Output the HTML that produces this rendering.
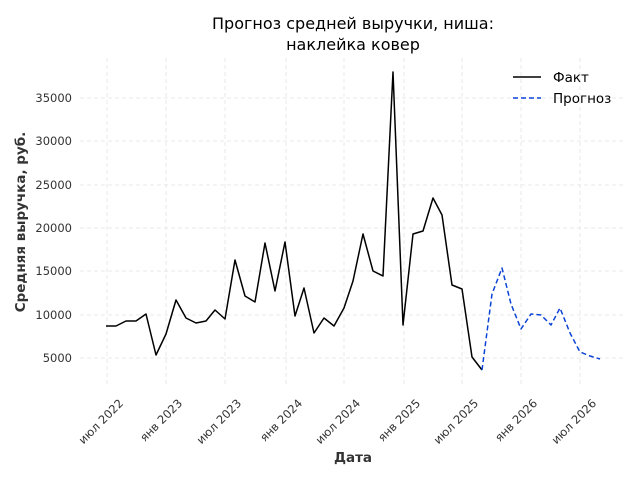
<!DOCTYPE html><html><head><meta charset="utf-8"><style>body{margin:0;background:#fff}svg{font-family:"DejaVu Sans","Liberation Sans",sans-serif}</style></head><body>
<svg width="640" height="480" viewBox="0 0 640 480" xmlns="http://www.w3.org/2000/svg">
<rect width="640" height="480" fill="#fff"/>
<g stroke="#e3e3e3" stroke-width="0.8" stroke-dasharray="4,3">
<line x1="80" x2="626" y1="98" y2="98"/><line x1="80" x2="626" y1="141" y2="141"/><line x1="80" x2="626" y1="185" y2="185"/><line x1="80" x2="626" y1="228" y2="228"/><line x1="80" x2="626" y1="271" y2="271"/><line x1="80" x2="626" y1="315" y2="315"/><line x1="80" x2="626" y1="358" y2="358"/>
<line y1="58" y2="386" x1="107" x2="107"/><line y1="58" y2="386" x1="166" x2="166"/><line y1="58" y2="386" x1="225" x2="225"/><line y1="58" y2="386" x1="286" x2="286"/><line y1="58" y2="386" x1="344" x2="344"/><line y1="58" y2="386" x1="404" x2="404"/><line y1="58" y2="386" x1="462" x2="462"/><line y1="58" y2="386" x1="521" x2="521"/><line y1="58" y2="386" x1="580" x2="580"/>
</g>
<g font-size="11.5" fill="#333" text-anchor="end">
<text x="72" y="102">35000</text><text x="72" y="145">30000</text><text x="72" y="189">25000</text><text x="72" y="232">20000</text><text x="72" y="275">15000</text><text x="72" y="319">10000</text><text x="72" y="362">5000</text>
</g>
<g font-size="11.5" fill="#333" text-anchor="end">
<text transform="translate(124,404) rotate(-45)">июл 2022</text><text transform="translate(183,404) rotate(-45)">янв 2023</text><text transform="translate(242,404) rotate(-45)">июл 2023</text><text transform="translate(303,404) rotate(-45)">янв 2024</text><text transform="translate(361,404) rotate(-45)">июл 2024</text><text transform="translate(421,404) rotate(-45)">янв 2025</text><text transform="translate(479,404) rotate(-45)">июл 2025</text><text transform="translate(538,404) rotate(-45)">янв 2026</text><text transform="translate(597,404) rotate(-45)">июл 2026</text>
</g>
<text x="353" y="29" font-size="16" text-anchor="middle">Прогноз средней выручки, ниша:</text>
<text x="353" y="50" font-size="16" text-anchor="middle">наклейка ковер</text>
<text x="353" y="462" font-size="13.5" font-weight="bold" fill="#333" text-anchor="middle">Дата</text>
<text transform="translate(25,222) rotate(-90)" font-size="13.5" font-weight="bold" fill="#333" text-anchor="middle">Средняя выручка, руб.</text>
<polyline fill="none" stroke="#000" stroke-width="1.5" stroke-linejoin="round" points="106,326 116,326 126,321 136,321 146,314 156,355 166,334 176,300 186,318 196,323 206,321 215,310 225,319 235,260 245,296 255,302 265,243 275,291 285,242 295,316 304,288 314,333 324,318 334,326 344,308 353,281 363,234 373,271 383,276 393,72 403,325 413,234 423,231 433,198 442,215 452,285 462,289 472,357 482,370"/>
<polyline fill="none" stroke="#0a44d6" stroke-width="1.5" stroke-dasharray="5,3" stroke-linejoin="round" points="482,370 492,294 502,268 511,304 521,329 531,314 541,315 551,325 560,308 570,333 580,352 590,356 600,359"/>
<line x1="513" x2="541" y1="77" y2="77" stroke="#000" stroke-width="1.5"/>
<line x1="513" x2="541" y1="98" y2="98" stroke="#0a44d6" stroke-width="1.5" stroke-dasharray="5,3"/>
<text x="553" y="82" font-size="13.5">Факт</text>
<text x="553" y="103" font-size="13.5">Прогноз</text>
</svg>
</body></html>
